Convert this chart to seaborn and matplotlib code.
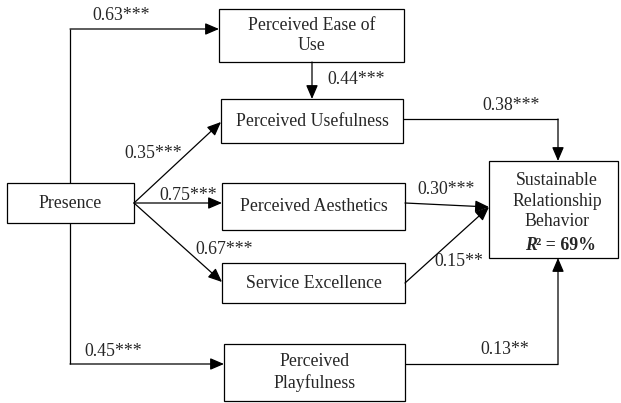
import seaborn as sns
import matplotlib.pyplot as plt

# path diagram data
nodes = ['Presence', 'Perceived Ease of\nUse', 'Perceived Usefulness',
         'Perceived Aesthetics', 'Service Excellence', 'Perceived\nPlayfulness',
         'Sustainable\nRelationship\nBehavior']
paths_from = [0, 1, 2, 0, 0, 3, 0, 4, 0, 5]
paths_to = [1, 2, 6, 2, 3, 6, 4, 6, 5, 6]
coefs = [0.63, 0.44, 0.38, 0.35, 0.75, 0.30, 0.67, 0.15, 0.45, 0.13]
sig = ['***', '***', '***', '***', '***', '***', '***', '**', '***', '**']
r2 = 69

sns.set_style('white')
plt.rcParams['font.family'] = ['Liberation Serif', 'DejaVu Serif']
fs = 12.8

fig = plt.figure(figsize=(6.21, 4.03), dpi=100)
ax = fig.add_axes([0, 0, 1, 1])
ax.set_xlim(0, 621)
ax.set_ylim(403, 0)
ax.axis('off')

# box extents (x0, y0, x1, y1) in pixel coords
boxes = [(7, 183, 134, 223), (219, 9, 404, 62), (221, 99, 403, 143),
         (222, 183, 405, 230), (222, 263, 405, 303), (224, 344, 405, 401),
         (489, 161, 618, 258)]

for i, (x0, y0, x1, y1) in enumerate(boxes):
    ax.add_patch(plt.Rectangle((x0, y0), x1 - x0, y1 - y0, fill=False,
                               ec='black', lw=0.9))
    tx, ty = (x0 + x1) / 2, (y0 + y1) / 2
    if i == 6:
        tx, ty = 557, 201
    ax.text(tx, ty, nodes[i], ha='center', va='center',
            fontsize=fs, linespacing=1.24)

ax.text(537, 245, 'R', fontsize=fs, fontweight='bold', style='italic',
        ha='right', va='center')
ax.text(536, 245, '\u00b2 = %d%%' % r2, fontsize=fs, fontweight='bold',
        ha='left', va='center')

arrow_kw = dict(arrowstyle='-|>,head_length=0.7,head_width=0.3', color='black',
                lw=0.9, shrinkA=0, shrinkB=0, mutation_scale=12)


def arrow(pts):
    xs = [p[0] for p in pts]
    ys = [p[1] for p in pts]
    if len(pts) > 2:
        ax.plot(xs[:-1], ys[:-1], color='black', lw=0.9, solid_capstyle='butt')
    ax.annotate('', xy=pts[-1], xytext=pts[-2], arrowprops=arrow_kw)


routes = [
    [(70, 183), (70, 29), (219, 29)],
    [(312, 62), (312, 99)],
    [(403, 119), (558, 119), (558, 161)],
    [(134, 203), (221, 122)],
    [(134, 203), (222, 203)],
    [(405, 203), (489, 207)],
    [(134, 203), (222, 282)],
    [(405, 283), (489, 207)],
    [(70, 223), (70, 364), (224, 364)],
    [(405, 364), (558, 364), (558, 258)],
]
label_pos = [(121, 15), (356, 80), (511, 106), (153, 154), (188, 196),
             (446, 189), (224, 250), (459, 262), (113, 351), (505, 349)]

for r, (lx, ly), c, s in zip(routes, label_pos, coefs, sig):
    arrow(r)
    ax.text(lx, ly, f'{c:.2f}{s}', fontsize=fs, ha='center', va='center')

plt.savefig('out.png', dpi=100)
